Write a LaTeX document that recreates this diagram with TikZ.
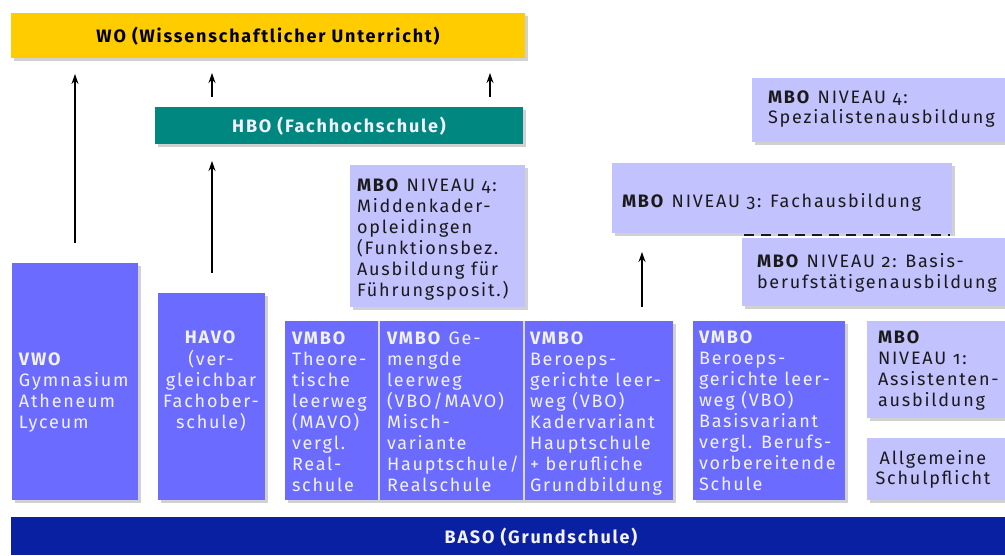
\documentclass[tikz,border=0pt]{standalone}
\usepackage{fontspec}
\setmainfont{Fira Sans}[Numbers=OldStyle,LetterSpace=10]
\usetikzlibrary{arrows.meta,shadows}
\definecolor{gold}{HTML}{FFCC00}
\definecolor{teal2}{HTML}{00877F}
\definecolor{lav}{HTML}{C2C2FF}
\definecolor{mblue}{HTML}{6B6BFF}
\definecolor{dblue}{HTML}{0A20A3}
\definecolor{wtxt}{HTML}{F2F2FF}
\definecolor{btxt}{HTML}{1A1A1A}
\definecolor{divider}{HTML}{DADAFF}
\begin{document}
\begin{tikzpicture}[x=1pt,y=-1pt,
  box/.style={inner sep=0pt, outer sep=0pt, anchor=north west,
    drop shadow={shadow xshift=2.5pt,shadow yshift=-2.5pt,fill=black,opacity=.18}},
  flat/.style={inner sep=0pt, outer sep=0pt, anchor=north west},
  txt/.style={inner sep=0pt, outer sep=0pt, anchor=north west, align=left,
    font=\fontsize{18}{21}\selectfont},
  wt/.style={txt, text=wtxt},
  bt/.style={txt, text=btxt},
  arr/.style={-{Stealth[length=10pt,width=7pt]}, line width=1.3pt, black}
]
\useasboundingbox (0,0) rectangle (1005,555);
\fill[white] (0,0) rectangle (1005,555);

% boxes
\node[box, fill=gold,  minimum width=514pt, minimum height=45pt]  (wo)    at (11,13)   {};
\node[box, fill=teal2, minimum width=368pt, minimum height=37pt]  (hbo)   at (155,107) {};
\node[box, fill=lav,   minimum width=253pt, minimum height=64pt]  (spez)  at (752,78)  {};
\node[box, fill=lav,   minimum width=175pt, minimum height=142pt] (mbofour) at (350,165) {};
\node[box, fill=lav,   minimum width=340pt, minimum height=70pt]  (mbothree) at (612,163) {};
\node[box, fill=lav,   minimum width=263pt, minimum height=68pt]  (mbotwo) at (742,238) {};
\node[box, fill=mblue, minimum width=126pt, minimum height=237pt] (vwo)   at (12,263)  {};
\node[box, fill=mblue, minimum width=107pt, minimum height=207pt] (havo)  at (158,293) {};
\node[box, fill=mblue, minimum width=388pt, minimum height=179pt] (vmbo)  at (285,321) {};
\node[box, fill=mblue, minimum width=152pt, minimum height=179pt] (vmbob) at (693,321) {};
\node[box, fill=lav,   minimum width=138pt, minimum height=97pt]  (mboone) at (867,321) {};
\node[box, fill=lav,   minimum width=138pt, minimum height=62pt]  (allg)  at (867,438) {};
\node[flat, fill=dblue, minimum width=994pt, minimum height=38pt] (baso)  at (11,517)  {};

% dividers in VMBO group
\coordinate (d1t) at (379,321); \coordinate (d1b) at (379,500);
\coordinate (d2t) at (524,321); \coordinate (d2b) at (524,500);
\draw[divider, line width=1.6pt] (d1t) -- (d1b);
\draw[divider, line width=1.6pt] (d2t) -- (d2b);

% dashed separator
\coordinate (ds) at (744,235); \coordinate (de) at (950,235);
\draw[btxt, line width=1.6pt, dash pattern=on 10pt off 7pt] (ds) -- (de);

% arrows
\coordinate (a1s) at (75,243);  \coordinate (a1e) at (75,74);
\coordinate (a2s) at (212,97);  \coordinate (a2e) at (212,73);
\coordinate (a3s) at (490,97);  \coordinate (a3e) at (490,73);
\coordinate (a4s) at (212,273); \coordinate (a4e) at (212,161);
\coordinate (a5s) at (642,307); \coordinate (a5e) at (642,252);
\draw[arr] (a1s) -- (a1e);
\draw[arr] (a2s) -- (a2e);
\draw[arr] (a3s) -- (a3e);
\draw[arr] (a4s) -- (a4e);
\draw[arr] (a5s) -- (a5e);

% texts
\node[inner sep=0pt, text=black, font=\bfseries\fontsize{18}{21}\selectfont] (two) at (268,36) {WO (Wissenschaftlicher Unterricht)};
\node[inner sep=0pt, text=wtxt, font=\bfseries\fontsize{18}{21}\selectfont] (thbo) at (339,126) {HBO (Fachhochschule)};
\node[inner sep=0pt, text=wtxt, font=\bfseries\fontsize{18}{21}\selectfont] (tbaso) at (541,537) {BASO (Grundschule)};

\node[bt] (tspez) at (768,88.3) {\strut\textbf{MBO} NIVEAU 4:\\[-1pt]Spezialistenausbildung};
\node[bt] (tmbofour) at (357,176.3) {\strut\textbf{MBO} NIVEAU 4:\\Middenkader-\\opleidingen\\(Funktionsbez.\\Ausbildung für\\Führungsposit.)};
\node[bt] (tmbothree) at (622,192.3) {\strut\textbf{MBO} NIVEAU 3: Fachausbildung};
\node[bt] (tmbotwo) at (757,252.3) {\strut\textbf{MBO} NIVEAU 2: Basis-\\berufstätigenausbildung};

\node[wt] (tvwo) at (19,350.3) {\strut\textbf{VWO}\\Gymnasium\\Atheneum\\Lyceum};
\node[wt, anchor=north, align=center] (thavo) at (211,328.3) {\strut\textbf{HAVO}\\(ver-\\gleichbar\\Fachober-\\schule)};
\node[wt] (tvmboa) at (292,329.3) {\strut\textbf{VMBO}\\Theore-\\tische\\leerweg\\(MAVO)\\vergl.\\Real-\\schule};
\node[wt] (tvmbob) at (387,329.3) {\strut\textbf{VMBO} Ge-\\mengde\\leerweg\\(VBO/MAVO)\\Misch-\\variante\\Hauptschule/\\Realschule};
\node[wt] (tvmboc) at (530,329.3) {\strut\textbf{VMBO}\\Beroeps-\\gerichte leer-\\weg (VBO)\\Kadervariant\\Hauptschule\\+ berufliche\\Grundbildung};
\node[wt] (tvmbod) at (699,328.3) {\strut\textbf{VMBO}\\Beroeps-\\gerichte leer-\\weg (VBO)\\Basisvariant\\vergl. Berufs-\\vorbereitende\\Schule};
\node[bt] (tmboone) at (878,328.3) {\strut\textbf{MBO}\\NIVEAU 1:\\Assistenten-\\ausbildung};
\node[bt, anchor=north, align=center] (tallg) at (933,449.3) {\strut Allgemeine\\[-1pt]Schulpflicht};
\end{tikzpicture}
\end{document}
